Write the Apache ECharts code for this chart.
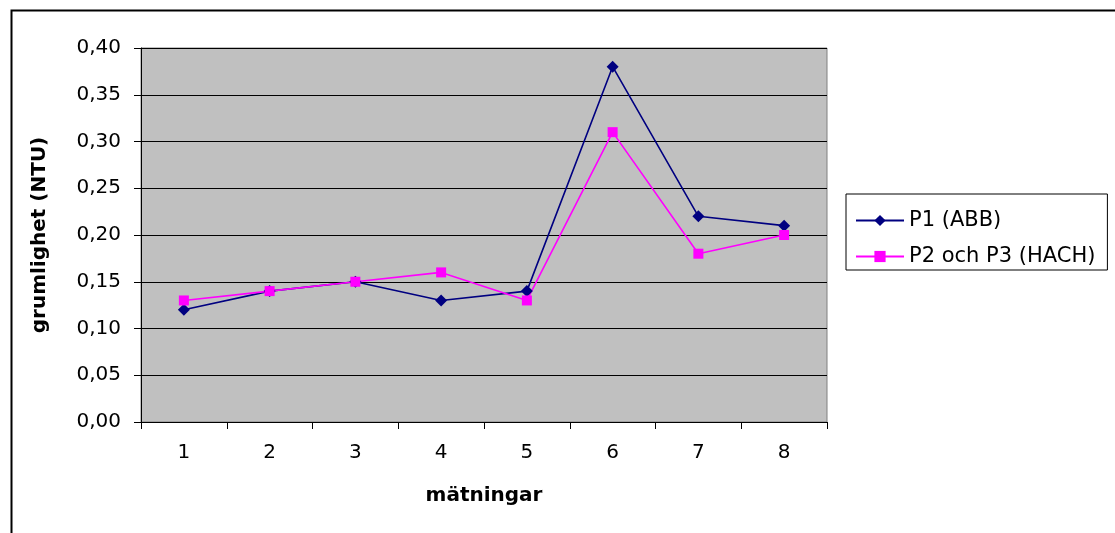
<!DOCTYPE html>
<html><head><meta charset="utf-8">
<script src="https://cdn.jsdelivr.net/npm/echarts@6/dist/echarts.min.js"></script>
<style>html,body{margin:0;padding:0;background:#fff}#c{width:1115px;height:533px}</style>
</head><body><div id="c"></div>
<script>
const categories = ['1','2','3','4','5','6','7','8'];
const p1 = [0.12, 0.14, 0.15, 0.13, 0.14, 0.38, 0.22, 0.21];
const p2 = [0.13, 0.14, 0.15, 0.16, 0.13, 0.31, 0.18, 0.20];
const seriesNames = ['P1 (ABB)', 'P2 och P3 (HACH)'];
const FONT = '"DejaVu Sans", sans-serif';
const chart = echarts.init(document.getElementById('c'), null, {renderer:'canvas'});
chart.setOption({
  animation: false,
  backgroundColor: '#fff',
  graphic: [{
    type: 'rect', left: 9, top: 8, z: 0,
    shape: {width: 1200, height: 600},
    style: {fill: 'none', stroke: '#000', lineWidth: 2}
  }],
  grid: {left: 141, top: 48, right: 288, bottom: 111, show: true,
         backgroundColor: '#C0C0C0', borderColor: '#808080', borderWidth: 1},
  legend: {
    orient: 'vertical', left: 846, top: 194,
    padding: [16, 12, 3, 9], itemGap: 15,
    itemWidth: 48, itemHeight: 14,
    borderColor: '#000', borderWidth: 1, backgroundColor: '#fff',
    textStyle: {fontFamily: FONT, fontSize: 21, color: '#000'},
    data: seriesNames
  },
  xAxis: {
    type: 'category', data: categories, boundaryGap: true,
    name: 'mätningar', nameLocation: 'middle', nameGap: 64,
    nameTextStyle: {fontFamily: FONT, fontSize: 20, fontWeight: 'bold', color: '#000'},
    axisLine: {lineStyle: {color: '#000', width: 1}},
    axisTick: {show: true, length: 7, inside: false, alignWithLabel: false, lineStyle: {color: '#000'}},
    axisLabel: {fontFamily: FONT, fontSize: 20, color: '#000', margin: 21}
  },
  yAxis: {
    type: 'value', min: 0, max: 0.4, interval: 0.05,
    name: 'grumlighet (NTU)', nameLocation: 'middle', nameGap: 91, nameRotate: 90,
    nameTextStyle: {fontFamily: FONT, fontSize: 20, fontWeight: 'bold', color: '#000'},
    axisLine: {show: true, lineStyle: {color: '#000', width: 1}},
    axisTick: {show: true, length: 7, lineStyle: {color: '#000'}},
    axisLabel: {fontFamily: FONT, fontSize: 20, color: '#000', margin: 20,
      formatter: v => v.toFixed(2).replace('.', ',')},
    splitLine: {show: true, lineStyle: {color: '#000', width: 1}}
  },
  series: [
    {name: seriesNames[0], type: 'line', data: p1, symbol: 'diamond', symbolSize: 12,
     itemStyle: {color: '#000080'}, lineStyle: {color: '#000080', width: 1.6}},
    {name: seriesNames[1], type: 'line', data: p2, symbol: 'rect', symbolSize: 10,
     itemStyle: {color: '#FF00FF'}, lineStyle: {color: '#FF00FF', width: 1.6}}
  ]
});
</script></body></html>
